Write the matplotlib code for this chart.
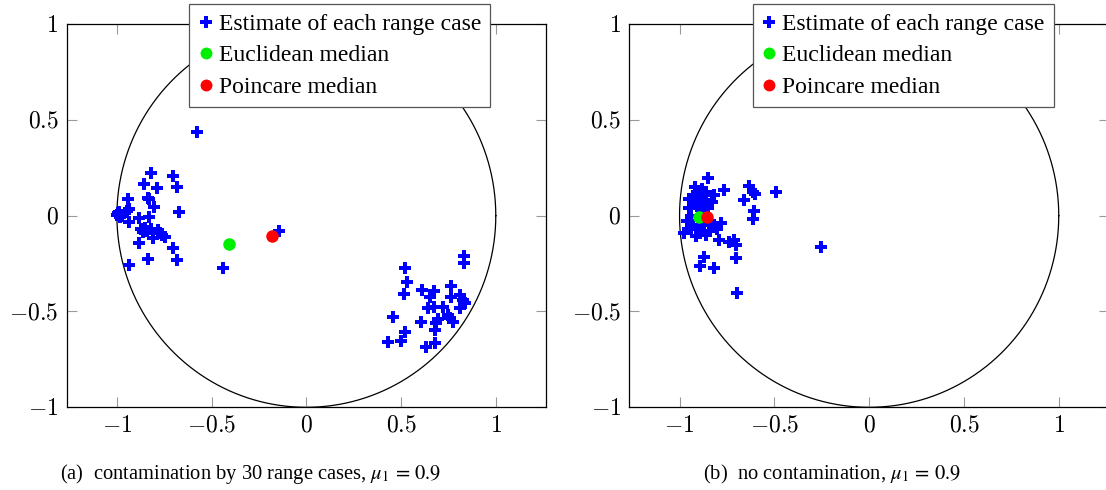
import matplotlib
matplotlib.use("Agg")
import matplotlib.pyplot as plt
import numpy as np

plt.rcParams['font.family'] = ['Liberation Serif', 'DejaVu Serif']
plt.rcParams['mathtext.fontset'] = 'cm'

# ---- data ----
a_est_x = [-0.579, -0.822, -0.703, -0.856, -0.789, -0.683, -0.942, -0.838, -0.828, -0.803,
           -0.935, -0.945, -0.673, -0.993, -0.984, -1.000, -0.990, -0.975, -0.935, -0.882,
           -0.830, -0.875, -0.850, -0.840, -0.860, -0.820, -0.782, -0.773, -0.747, -0.808,
           -0.760, -0.884, -0.706, -0.836, -0.683, -0.938, -0.442, -0.145,
           0.831, 0.831, 0.523, 0.529, 0.516, 0.611, 0.673, 0.766, 0.652, 0.766,
           0.810, 0.828, 0.836, 0.810, 0.643, 0.673, 0.719, 0.748, 0.757, 0.775,
           0.696, 0.687, 0.678, 0.455, 0.604, 0.523, 0.499, 0.430, 0.629, 0.678]
a_est_y = [0.438, 0.224, 0.209, 0.164, 0.145, 0.148, 0.087, 0.094, 0.086, 0.047,
           0.035, 0.022, 0.019, 0.012, -0.005, 0.004, 0.020, 0.000, -0.031, -0.014,
           -0.005, -0.070, -0.065, -0.080, -0.085, -0.070, -0.075, -0.092, -0.110, -0.118,
           -0.100, -0.144, -0.167, -0.226, -0.231, -0.259, -0.275, -0.078,
           -0.210, -0.245, -0.271, -0.344, -0.409, -0.388, -0.393, -0.367, -0.423, -0.426,
           -0.414, -0.440, -0.457, -0.483, -0.480, -0.475, -0.475, -0.518, -0.536, -0.553,
           -0.541, -0.562, -0.597, -0.527, -0.553, -0.605, -0.652, -0.661, -0.687, -0.666]
a_euc = (-0.407, -0.149)
a_poi = (-0.180, -0.106)

b_est_x = [-0.852, -0.917, -0.880, -0.860, -0.900, -0.930, -0.950, -0.920, -0.890, -0.870,
           -0.816, -0.767, -0.635, -0.614, -0.600, -0.491, -0.658, -0.609, -0.614, -0.781,
           -0.975, -0.913, -0.843, -0.790, -0.737, -0.711, -0.702, -0.873, -0.892, -0.816,
           -0.702, -0.699, -0.255,
           -0.950, -0.940, -0.960, -0.930, -0.900, -0.870, -0.850, -0.820, -0.880, -0.910,
           -0.850, -0.830, -0.940, -0.890, -0.860, -0.800]
b_est_y = [0.195, 0.151, 0.140, 0.125, 0.120, 0.100, 0.085, 0.070, 0.090, 0.080,
           0.108, 0.134, 0.155, 0.125, 0.112, 0.125, 0.082, 0.025, -0.017, -0.036,
           -0.092, -0.106, -0.078, -0.127, -0.136, -0.127, -0.153, -0.214, -0.262, -0.271,
           -0.219, -0.402, -0.162,
           0.040, 0.000, -0.030, -0.050, -0.060, -0.050, -0.030, -0.050, 0.030, 0.050,
           0.040, 0.070, -0.070, -0.090, -0.100, -0.070]
b_euc = (-0.899, -0.008)
b_poi = (-0.857, -0.008)

ticks = [-1, -0.5, 0, 0.5, 1]
tick_labels = [r'$-1$', r'$-0.5$', r'$0$', r'$0.5$', r'$1$']
legend_labels = ['Estimate of each range case', 'Euclidean median', 'Poincare median']
captions = [r'(a)  contamination by 30 range cases, $\mu_1\,=\,0.9$',
            r'(b)  no contamination, $\mu_1\,=\,0.9$']

W, H = 1106, 490
fig = plt.figure(figsize=(W / 100, H / 100), dpi=100)

def fx(px):
    return px / W

def fy(py):
    return 1 - py / H

axes_px = [(66.7, 546.0), (629.3, 1109.0)]
legend_px = [(189, 4), (752.7, 4)]
caption_px = [(251, 474), (832, 474)]
datasets = [(a_est_x, a_est_y, a_euc, a_poi), (b_est_x, b_est_y, b_euc, b_poi)]

theta = np.linspace(0, 2 * np.pi, 721)
for i in range(2):
    l, r = axes_px[i]
    ax = fig.add_axes([fx(l), fy(407.3), (r - l) / W, (407.3 - 24) / H])
    ex, ey, euc, poi = datasets[i]
    ax.plot(np.cos(theta), np.sin(theta), color='black', lw=0.9, zorder=1)
    ax.plot(ex, ey, linestyle='none', marker='P', ms=8.6, color='#0000ff',
            markeredgewidth=0, zorder=2, label=legend_labels[0])
    ax.plot([euc[0]], [euc[1]], linestyle='none', marker='o', ms=9, color='#00ee00',
            markeredgewidth=0, zorder=3, label=legend_labels[1])
    ax.plot([poi[0]], [poi[1]], linestyle='none', marker='o', ms=9, color='#ff0000',
            markeredgewidth=0, zorder=4, label=legend_labels[2])
    ax.set_xlim(-1.265, 1.265)
    ax.set_ylim(-1, 1)
    ax.set_xticks(ticks, tick_labels)
    ax.set_yticks(ticks, tick_labels)
    ax.tick_params(direction='in', length=7, width=0.8, color='#999999',
                   top=True, right=True, labelsize=17, pad=6)
    for s in ax.spines.values():
        s.set_linewidth(0.9)
    leg = ax.legend(loc='upper left', bbox_to_anchor=(fx(legend_px[i][0]), fy(legend_px[i][1])),
                    bbox_transform=fig.transFigure, borderaxespad=0, fontsize=17,
                    handlelength=0.6, handletextpad=0.25, labelspacing=0.42,
                    borderpad=0.4, fancybox=False, framealpha=1, edgecolor='#555555',
                    markerscale=0.95)
    leg.get_frame().set_linewidth(0.9)
    fig.text(fx(caption_px[i][0]), fy(caption_px[i][1]), captions[i], ha='center', va='center',
             fontsize=14.8, math_fontfamily='stix')

fig.savefig('out.png', dpi=100)
